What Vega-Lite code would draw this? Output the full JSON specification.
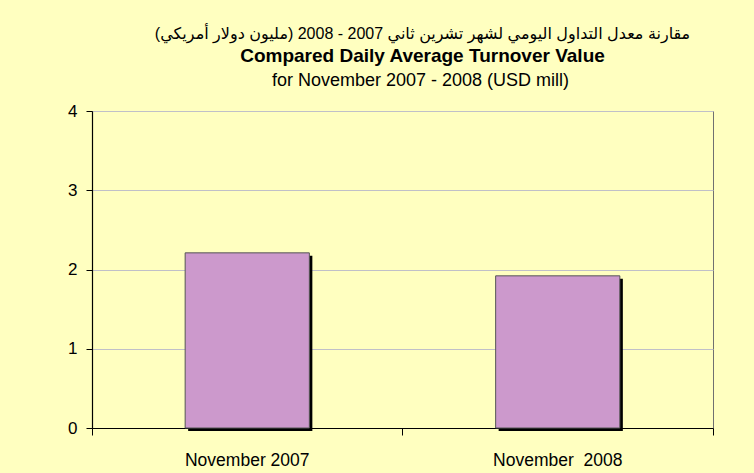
{
  "$schema": "https://vega.github.io/schema/vega-lite/v6.json",
  "autosize": {"type": "none"},
  "padding": {"left": 92, "top": 111, "right": 41, "bottom": 45},
  "width": 621,
  "height": 317,
  "background": "#FFFFC0",
  "title": {
    "text": "مقارنة معدل التداول اليومي  لشهر تشرين ثاني 2007 - 2008 (مليون دولار أمريكي)",
    "subtitle": "Compared Daily Average Turnover Value",
    "anchor": "middle",
    "dx": 20,
    "font": "Liberation Sans, DejaVu Sans",
    "fontSize": 16,
    "fontWeight": "normal",
    "color": "#000000",
    "subtitleFont": "Liberation Sans",
    "subtitleFontSize": 19,
    "subtitleFontWeight": "bold",
    "subtitleColor": "#000000",
    "subtitlePadding": 5,
    "offset": 5
  },
  "data": {
    "values": [
      {"period": "November 2007", "value": 2.21},
      {"period": "November\u00a0 2008", "value": 1.92}
    ]
  },
  "config": {
    "view": {"stroke": "#707070", "strokeWidth": 1},
    "font": "Liberation Sans"
  },
  "layer": [
    {
      "mark": {"type": "bar", "color": "#000000", "xOffset": 3, "yOffset": 3, "width": {"band": 0.4}},
      "encoding": {
        "x": {
          "field": "period",
          "type": "nominal",
          "sort": null,
          "scale": {"paddingInner": 0, "paddingOuter": 0},
          "axis": {
            "orient": "top",
            "title": "for November 2007 - 2008 (USD mill)",
            "labels": false,
            "ticks": false,
            "domain": false,
            "grid": false,
            "titleFont": "Liberation Sans",
            "titleFontSize": 18,
            "titleFontWeight": "normal",
            "titleColor": "#000000",
            "titlePadding": 22,
            "titleX": 328
          }
        },
        "y": {
          "field": "value",
          "type": "quantitative",
          "scale": {"domain": [0, 4]},
          "axis": {
            "values": [0, 1, 2, 3, 4],
            "format": "d",
            "title": null,
            "grid": true,
            "gridColor": "#C0C0C8",
            "domainColor": "#000000",
            "domainWidth": 1.2,
            "tickColor": "#000000",
            "tickSize": 6,
            "labelFont": "Liberation Sans",
            "labelFontSize": 17,
            "labelColor": "#000000",
            "labelPadding": 9
          }
        }
      }
    },
    {
      "mark": {"type": "bar", "fill": "#CC99CC", "stroke": "#555555", "strokeWidth": 1, "width": {"band": 0.4}},
      "encoding": {
        "x": {
          "field": "period",
          "type": "nominal",
          "sort": null,
          "axis": {
            "orient": "bottom",
            "title": null,
            "bandPosition": 1,
            "tickExtra": true,
            "labelAngle": 0,
            "domainColor": "#000000",
            "domainWidth": 1.2,
            "tickColor": "#000000",
            "tickSize": 7,
            "labelFont": "Liberation Sans",
            "labelFontSize": 17.5,
            "labelColor": "#000000",
            "labelPadding": 16,
            "grid": false
          }
        },
        "y": {"field": "value", "type": "quantitative"}
      }
    }
  ],
  "resolve": {"axis": {"x": "independent"}}
}
